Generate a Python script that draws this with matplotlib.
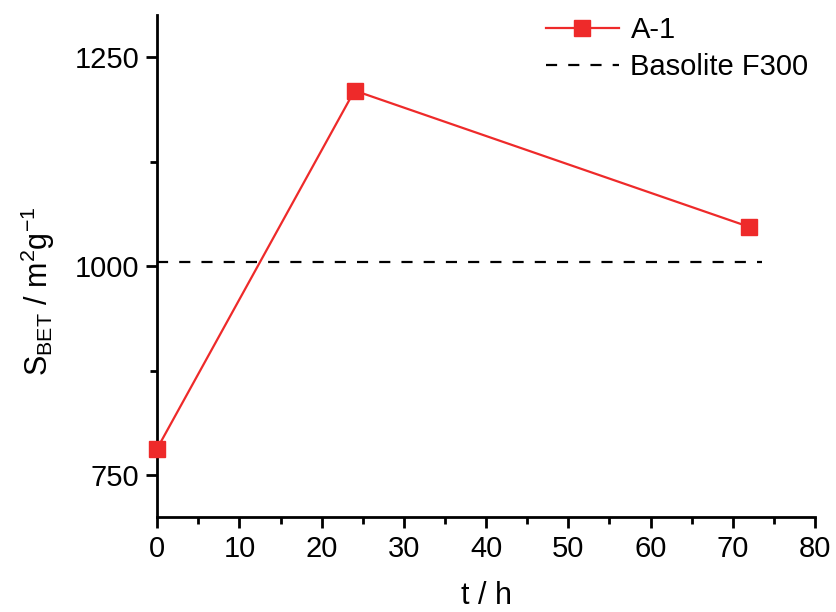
import numpy as np
import matplotlib.pyplot as plt
from matplotlib.ticker import MultipleLocator

plt.rcParams['font.family'] = ['Liberation Sans', 'DejaVu Sans']
plt.rcParams['mathtext.fontset'] = 'custom'
plt.rcParams['mathtext.rm'] = 'Liberation Sans'
plt.rcParams['mathtext.it'] = 'Liberation Sans'
plt.rcParams['mathtext.default'] = 'regular'

# datos
t_h = [0, 24, 72]
s_bet = [782, 1210, 1047]
basolite_x = [0, 73.5]
basolite_y = [1005, 1005]

fig = plt.figure(figsize=(8.36, 6.12), dpi=100)
ax = fig.add_axes([0.188, 0.155, 0.787, 0.82])

ax.plot(t_h, s_bet, color='#ee2a2a', lw=1.6, marker='s', markersize=11,
        label='A-1', clip_on=False, zorder=3)
ax.plot(basolite_x, basolite_y, color='black', lw=1.6, ls=(0, (5, 5)),
        label='Basolite F300')

ax.set_xlim(0, 80)
ax.set_ylim(700, 1300)
ax.xaxis.set_major_locator(MultipleLocator(10))
ax.xaxis.set_minor_locator(MultipleLocator(5))
ax.yaxis.set_major_locator(MultipleLocator(250))
ax.yaxis.set_minor_locator(MultipleLocator(125))

for s in ['top', 'right']:
    ax.spines[s].set_visible(False)
for s in ['left', 'bottom']:
    ax.spines[s].set_linewidth(2)

ax.tick_params(which='major', length=8, width=2, labelsize=21, pad=5)
ax.tick_params(which='minor', length=5, width=2)

ax.set_xlabel('t / h', fontsize=22, labelpad=13)
ax.set_ylabel('S$_{BET}$ / m$^2$g$^{-1}$', fontsize=22)
ax.yaxis.set_label_coords(-0.152, 0.45)

ax.legend(loc='upper right', bbox_to_anchor=(1.03, 1.05), frameon=False,
          fontsize=21, handlelength=2.5, handletextpad=0.4, labelspacing=0.3)

plt.savefig('out.png', dpi=100)
